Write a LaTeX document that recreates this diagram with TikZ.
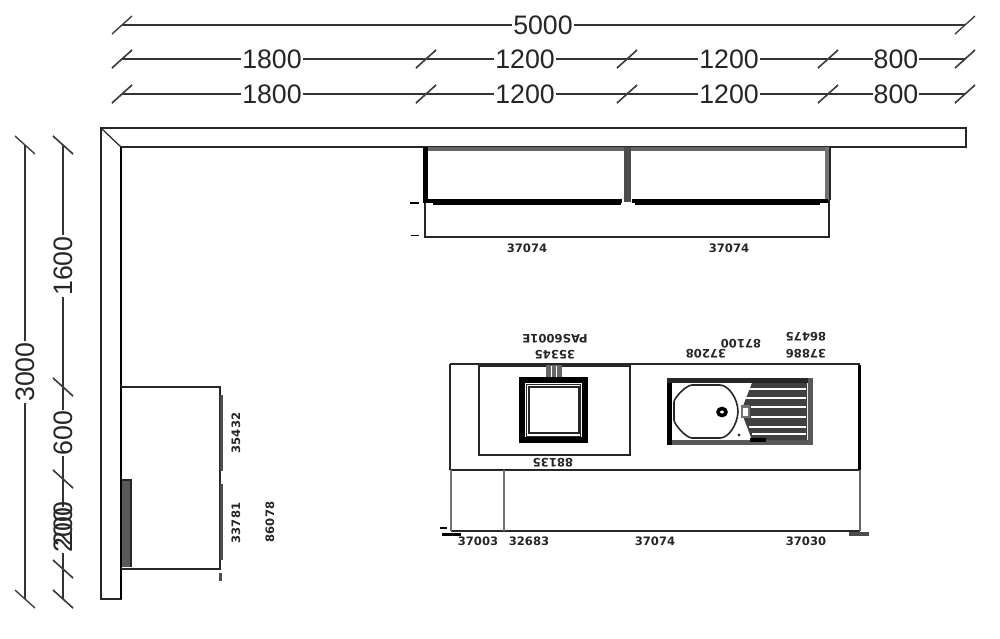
\documentclass[tikz,border=0pt]{standalone}
\usepackage{fontspec}
\setmainfont{Liberation Sans}
\newfontfamily\smallfont{DejaVu Sans}
\tikzset{
 x=0.01cm,y=-0.01cm,
 dimline/.style={draw=black!80,line width=0.55pt},
 dimtick/.style={draw=black!75,line width=0.4pt},
 dimtext/.style={fill=white,inner sep=0.3pt,font=\fontsize{7.6}{8}\selectfont,text=black!85},
 smalltext/.style={inner sep=0pt,font=\smallfont\fontsize{3.3}{4}\selectfont\bfseries,text=black!85},
 edge/.style={draw=black!85,line width=0.35pt},
 heavy/.style={draw=black,line width=0.8pt},
}
\newcommand{\htick}[2]{\draw[dimtick] (#1-10,#2+9) -- (#1+10,#2-9);}
\newcommand{\vtick}[2]{\draw[dimtick] (#1-10,#2-9) -- (#1+10,#2+9);}
\begin{document}
\begin{tikzpicture}
\useasboundingbox (0,0) rectangle (1000,638);
% horizontal dimensions
\draw[dimline] (122,25) -- (965,25);
\draw[dimline] (122,59) -- (965,59);
\draw[dimline] (122,94) -- (965,94);
\foreach \x in {122,965} \htick{\x}{25}
\foreach \y in {59,94} \foreach \x in {122,426,627,828,965} \htick{\x}{\y}
\node[dimtext] (t5000) at (543,25) {5000};
\foreach \y in {59,94}{
 \node[dimtext] at (272,\y) {1800};
 \node[dimtext] at (525,\y) {1200};
 \node[dimtext] at (729,\y) {1200};
 \node[dimtext] at (896,\y) {800};
}
% vertical dimensions
\draw[dimline] (25,145) -- (25,599);
\draw[dimline] (63,145) -- (63,599);
\foreach \y in {145,599} \vtick{25}{\y}
\foreach \y in {145,387,479,569,599} \vtick{63}{\y}
\node[dimtext,rotate=90] at (25,372) {3000};
\node[dimtext,rotate=90] at (63,266) {1600};
\node[dimtext,rotate=90] at (63,433) {600};
\node[dimtext,rotate=90] at (63,530) {200};
\node[dimtext,rotate=90,fill=none] at (63,524) {200};
% walls
\draw[edge] (101,128) -- (966,128) -- (966,147) -- (121,147) -- (121,599) -- (101,599) -- cycle;
\draw[edge] (101,128) -- (121,147);
\draw[heavy] (121,147) -- (121,599);
% tall unit
\draw[edge,line width=0.5pt] (121,387) -- (220,387) -- (220,569) -- (121,569);
\fill[black!70] (220,395) rectangle (223,471);
\fill[black!70] (220,484) rectangle (223,560);
\fill[black!70] (219,573) rectangle (222,581);
\fill[black!65] (122,481) rectangle (130,567);
\draw[edge] (122,480) -- (131,480) -- (131,567);
\node[smalltext,rotate=90] at (236,433) {35432};
\node[smalltext,rotate=90] at (236,523) {33781};
\node[smalltext,rotate=90] at (270,522) {86078};
% wall cabinets
\draw[edge,line width=0.5pt] (425,199) -- (425,237) -- (829,237) -- (829,199);
\fill[black!60] (425,147) rectangle (829,151);
\fill[black] (423,147) rectangle (428,203);
\fill[black!70] (624,147) rectangle (631,202);
\fill[black!55] (825,147) rectangle (829,200);
\draw[edge] (830,147) -- (830,200);
\fill[black] (426,199) rectangle (622,203);
\fill[black] (433,202) rectangle (621,205);
\fill[black] (632,199) rectangle (828,203);
\fill[black] (635,202) rectangle (820,205);
\fill[black] (410,202) rectangle (419,204);
\fill[black] (411,234.5) rectangle (419,236);
\node[smalltext] at (527,248) {37074};
\node[smalltext] at (729,248) {37074};
% island
\draw[edge,line width=0.5pt] (450,364) -- (860,364);
\draw[edge,line width=0.5pt] (450,364) -- (450,470);
\draw[edge,line width=0.6pt] (450,470) -- (860,470);
\fill[black] (858,365) rectangle (861,470);
\draw[edge] (479,366) -- (630,366) -- (630,455) -- (479,455) -- cycle;
\fill[black!60] (546,365) rectangle (562,377);
\draw[white,line width=0.2pt] (551,366) -- (551,377) (556,366) -- (556,377);
\fill[black] (519,377) rectangle (588,443);
\fill[white] (525,383) rectangle (582,437);
\draw[edge,line width=0.45pt] (529,387) rectangle (579,433);
\draw[edge,line width=0.2pt] (526,384) rectangle (580,436);
% sink
\fill[black!65] (667,378) rectangle (813,445);
\fill[white] (672,383) rectangle (808,440);
\fill[black] (667,378) rectangle (672,445);
\fill[black!85] (667,378) rectangle (808,383);
\draw[edge,line width=0.45pt] (674,402) -- (674,420) .. controls (674,424) and (686,438) .. (692,438) -- (720,438)
  .. controls (728,438) and (737,426) .. (738,412) .. controls (738,398) and (728,385) .. (720,385)
  -- (692,385) .. controls (686,385) and (674,398) .. (674,402) -- cycle;
\draw[black,line width=1pt] (722,412) ellipse (4 and 3.5);
\fill[black!80] (739,435) circle (1.7);
% drainer
\fill[black!75] (741,411) -- (752,383) -- (807,383) -- (807,440) -- (752,440) -- cycle;
\foreach \y/\w/\xa in {389/0.6/748,398/0.6/746,407/0.3/751,417/0.3/751,427/0.3/749,434/0.3/752}{
  \draw[white,line width=\w pt] (\xa,\y) -- (806,\y);
}
\fill[black!55] (741,405) rectangle (750,418);
\fill[white] (743,408) rectangle (748,416);
\fill[black] (750,438) rectangle (766,442);
\node[smalltext,rotate=180] at (555,339) {PAS6001E};
\node[smalltext,rotate=180] at (555,355) {35345};
\node[smalltext,rotate=180] at (553,463) {88135};
\node[smalltext,rotate=180] at (706,354) {37208};
\node[smalltext,rotate=180] at (741,344) {87100};
\node[smalltext,rotate=180] at (806,354) {37886};
\node[smalltext,rotate=180] at (806,337) {86475};
% base projection
\draw[edge,line width=0.6pt] (451,531) -- (860,531);
\fill[black] (440,527) rectangle (447,528.5);
\draw[edge,draw=black!55] (451,470) -- (451,531);
\draw[edge,draw=black!55] (504,470) -- (504,531);
\draw[edge,draw=black!60] (860,470) -- (860,531);
\fill[black] (442,533) rectangle (461,536);
\fill[black!70] (849,532) rectangle (869,536);
\node[smalltext] at (478,541) {37003};
\node[smalltext] at (529,541) {32683};
\node[smalltext] at (655,541) {37074};
\node[smalltext] at (806,541) {37030};
\end{tikzpicture}
\end{document}
